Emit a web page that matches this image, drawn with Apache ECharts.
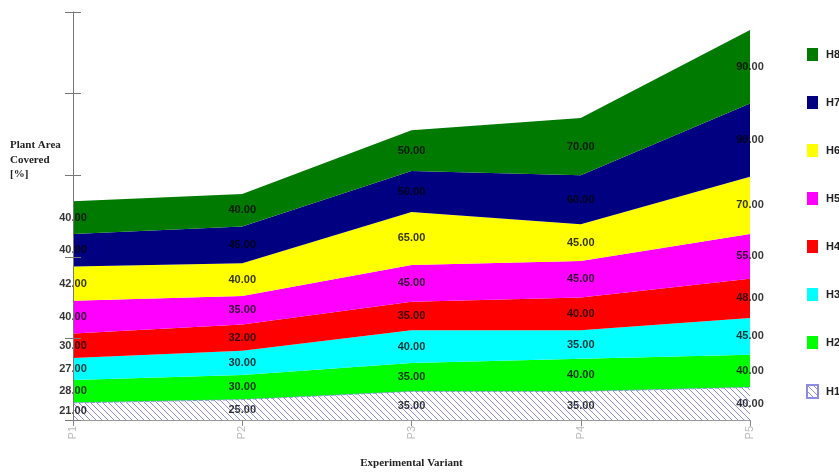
<!DOCTYPE html>
<html><head><meta charset="utf-8">
<script src="https://cdn.jsdelivr.net/npm/echarts@6/dist/echarts.min.js"></script>
<style>html,body{margin:0;padding:0;background:#fff}#c{width:839px;height:474px}</style>
</head><body><div id="c"></div>
<script>
const categories = ['P1','P2','P3','P4','P5'];
const seriesNames = ['H1','H2','H3','H4','H5','H6','H7','H8'];
const H1 = [21,25,35,35,40];
const H2 = [28,30,35,40,40];
const H3 = [27,30,40,35,45];
const H4 = [30,32,35,40,48];
const H5 = [40,35,45,45,55];
const H6 = [42,40,65,45,70];
const H7 = [40,45,50,60,90];
const H8 = [40,40,50,70,90];
const yTicks = [0,100,200,300,400,500];

const values = [H1,H2,H3,H4,H5,H6,H7,H8];
const colors = ['#ffffff','#00ff00','#00ffff','#ff0000','#ff00ff','#ffff00','#000080','#007a00'];

// hatch pattern for H1
const pc = document.createElement('canvas');
pc.width = 6; pc.height = 6;
const g = pc.getContext('2d');
g.fillStyle = '#ffffff'; g.fillRect(0,0,6,6);
g.strokeStyle = '#8c8ce6'; g.lineWidth = 1;
g.beginPath();
g.moveTo(-1,-1); g.lineTo(7,7);
g.moveTo(-1,5); g.lineTo(1,7);
g.moveTo(5,-1); g.lineTo(7,1);
g.stroke();
const hatch = {image: pc, repeat: 'repeat'};

const series = [];
values.forEach((vals, i) => {
  series.push({
    name: seriesNames[i], type: 'line', stack: 'total', data: vals,
    symbol: 'none', smooth: false,
    lineStyle: i === 0 ? {width: 1, color: '#8c8ce6', type: 'dashed'} : {width: 0},
    itemStyle: i === 0 ? {color: hatch, borderColor: '#8c8ce6', borderWidth: 1} : {color: colors[i]},
    areaStyle: {color: i === 0 ? hatch : colors[i], opacity: 1},
    z: 2
  });
});
// labels centered in bands
values.forEach((vals, i) => {
  const mids = vals.map((v, j) => {
    let base = 0;
    for (let k = 0; k < i; k++) base += values[k][j];
    return [categories[j], base + v / 2, v];
  });
  series.push({
    type: 'scatter', data: mids, symbolSize: 0, silent: true, z: 5,
    label: {show: true, position: 'inside', formatter: p => p.data[2].toFixed(2),
      color: '#000', fontSize: 11, fontFamily: 'Liberation Sans, Arial', fontWeight: 'bold'}
  });
});

const chart = echarts.init(document.getElementById('c'), null, {renderer: 'canvas'});
chart.setOption({
  animation: false,
  grid: {left: 73, right: 89, top: 12, bottom: 53},
  legend: {
    orient: 'vertical', left: 801, top: 43, itemWidth: 11, itemHeight: 13, itemGap: 35,
    icon: 'rect',
    data: seriesNames.slice().reverse(),
    textStyle: {fontSize: 11, fontWeight: 'bold', color: '#222', fontFamily: 'Liberation Sans, Arial', padding: [0,0,0,3]}
  },
  xAxis: {
    type: 'category', data: categories, boundaryGap: false,
    axisLine: {lineStyle: {color: '#999', width: 1}},
    axisTick: {show: true, alignWithLabel: true, length: 6, lineStyle: {color: '#888'}},
    axisLabel: {rotate: 90, color: '#bbb', fontSize: 11, fontFamily: 'Liberation Sans, Arial', margin: 6},
    name: 'Experimental Variant', nameLocation: 'middle', nameGap: 38,
    nameTextStyle: {fontFamily: 'Liberation Serif, Times New Roman', fontWeight: 'bold', fontSize: 11, color: '#222'},
    z: 10
  },
  yAxis: [{
    type: 'value', min: yTicks[0], max: yTicks[yTicks.length-1], interval: 100,
    axisLine: {show: true, lineStyle: {color: '#777'}},
    axisTick: {show: true, length: 8, lineStyle: {color: '#777'}},
    axisLabel: {show: false}, splitLine: {show: false}, z: 10
  },{
    type: 'value', min: yTicks[0], max: yTicks[yTicks.length-1], interval: 100, position: 'left',
    axisLine: {show: false},
    axisTick: {show: true, inside: true, length: 8, lineStyle: {color: '#777'}},
    axisLabel: {show: false}, splitLine: {show: false}, z: 10
  }],
  graphic: [{
    type: 'text', left: 10, top: 138,
    style: {text: 'Plant Area\nCovered\n[%]', font: 'bold 11px "Liberation Serif", "Times New Roman"', fill: '#222', lineHeight: 14.5}
  }],
  series: series
});
</script></body></html>
